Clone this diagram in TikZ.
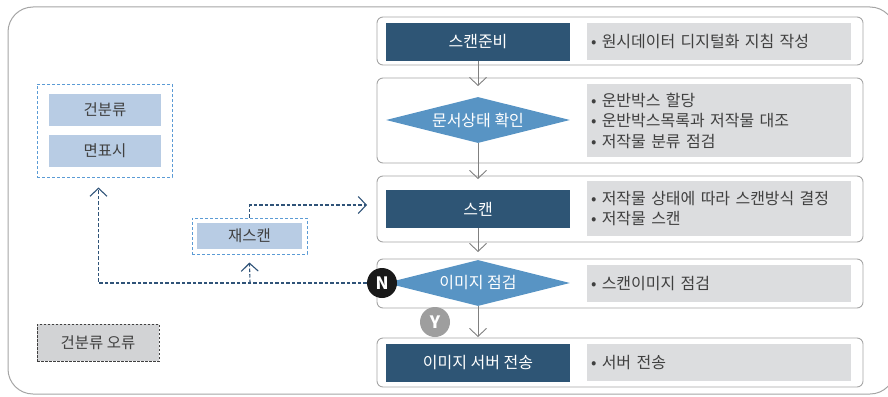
\documentclass[tikz,border=0pt]{standalone}
\usepackage{fontspec}
\setmainfont{Noto Sans CJK KR}
\usetikzlibrary{positioning,shapes.geometric,arrows.meta}
\definecolor{StepNavy}{RGB}{46,85,117}
\definecolor{DiaBlue}{RGB}{88,148,196}
\definecolor{NoteGray}{RGB}{220,221,223}
\definecolor{TagBlue}{RGB}{184,204,228}
\definecolor{DashBlue}{RGB}{91,155,213}
\definecolor{LinkNavy}{RGB}{47,83,120}
\definecolor{FrameGray}{RGB}{165,165,165}
\definecolor{TextGray}{RGB}{64,64,64}
\definecolor{ErrGray}{RGB}{210,211,213}
\tikzset{
	rowbox/.style={draw=FrameGray,line width=0.9pt,rounded corners=6pt,minimum width=486pt,inner sep=0pt},
	stepbox/.style={fill=StepNavy,text=white,minimum width=184pt,minimum height=38pt,inner sep=0pt,font=\fontsize{16}{18}\selectfont},
	checkdia/.style={diamond,aspect=4,fill=DiaBlue,text=white,minimum width=184pt,minimum height=46pt,inner sep=0pt,font=\fontsize{16}{18}\selectfont},
	notebox/.style={fill=NoteGray,text=TextGray,text width=256pt,inner xsep=4pt,inner ysep=0pt,align=left,font=\fontsize{16}{20.5}\selectfont},
	tagbox/.style={fill=TagBlue,text=TextGray,inner sep=0pt,font=\fontsize{15.5}{18}\selectfont},
	tagframe/.style={draw=DashBlue,line width=1pt,dash pattern=on 3pt off 2pt,inner sep=0pt},
	answermark/.style={circle,text=white,minimum size=30pt,inner sep=0pt,font=\fontsize{17}{18}\selectfont\bfseries},
	flow/.style={draw=gray,line width=0.9pt,-{Straight Barb[length=8pt,width=17pt]}},
	back/.style={draw=LinkNavy,line width=1.1pt,dash pattern=on 3.5pt off 2pt,-{Straight Barb[length=8pt,width=17pt]}},
}
\begin{document}
\begin{tikzpicture}[x=1pt,y=-1pt]
	\clip (0,0) rectangle (888,396);
	\draw[FrameGray,line width=1pt,rounded corners=25pt] (8,7) rectangle (895,394);
	% process rows
	\node[rowbox,minimum height=48pt] (r1) at (620,41) {};
	\node[rowbox,minimum height=85pt] (r2) at (620,120.5) {};
	\node[rowbox,minimum height=66pt] (r3) at (620,209) {};
	\node[rowbox,minimum height=49pt] (r4) at (620,283.5) {};
	\node[rowbox,minimum height=49pt] (r5) at (620,362.5) {};
	\node[stepbox] (s1) at (478,42) {스캔준비};
	\node[checkdia] (s2) at (478,120) {문서상태 확인};
	\node[stepbox] (s3) at (478,209) {스캔};
	\node[checkdia] (s4) at (478,283) {이미지 점검};
	\node[stepbox] (s5) at (478,363) {이미지 서버 전송};
	\node[notebox,minimum height=37pt] (n1) at (719,41.5) {• 원시데이터 디지털화 지침 작성};
	\node[notebox,minimum height=73pt] (n2) at (719,120.5) {• 운반박스 할당\\• 운반박스목록과 저작물 대조\\• 저작물 분류 점검};
	\node[notebox,minimum height=55pt] (n3) at (719,208.5) {• 저작물 상태에 따라 스캔방식 결정\\• 저작물 스캔};
	\node[notebox,minimum height=37pt] (n4) at (719,283.5) {• 스캔이미지 점검};
	\node[notebox,minimum height=37pt] (n5) at (719,362.5) {• 서버 전송};
	\coordinate (t1) at (478,86);
	\coordinate (t2) at (478,179);
	\coordinate (t3) at (478,252);
	\coordinate (t4) at (478,337);
	\draw[flow] (s1.south) -- (t1);
	\draw[flow] (s2.south) -- (t2);
	\draw[flow] (s3.south) -- (t3);
	\draw[flow] (s4.south) -- (t4);
	\node[answermark,fill=black!90] (nmark) at (382,283) {N};
	\node[answermark,fill=black!38] (ymark) at (435,322) {Y};
	% side boxes
	\node[tagframe,minimum width=135pt,minimum height=93pt] (grp) at (104.5,130.5) {};
	\node[tagbox,minimum width=112pt,minimum height=32pt] (sort) at (105,110) {건분류};
	\node[tagbox,minimum width=112pt,minimum height=32pt] (cover) at (105,151) {면표시};
	\node[tagframe,minimum width=115pt,minimum height=36pt] (rescan) at (249.5,236) {};
	\node[tagbox,minimum width=105pt,minimum height=26pt] at (rescan) {재스캔};
	\node[draw=black!75,fill=ErrGray,text=TextGray,line width=1pt,dash pattern=on 2.5pt off 1.5pt,minimum width=122pt,minimum height=37pt,inner sep=0pt,font=\fontsize{15.5}{18}\selectfont] (err) at (98,342.5) {건분류 오류};
	% loop back
	\coordinate (split) at (250,283);
	\coordinate (reentry) at (367,205);
	\draw[back] (nmark.west) -| ([xshift=-6pt,yshift=-10pt]grp.south);
	\draw[back] (split) -- ([yshift=-8pt]rescan.south);
	\draw[back] (rescan.north) |- (reentry);
\end{tikzpicture}
\end{document}
